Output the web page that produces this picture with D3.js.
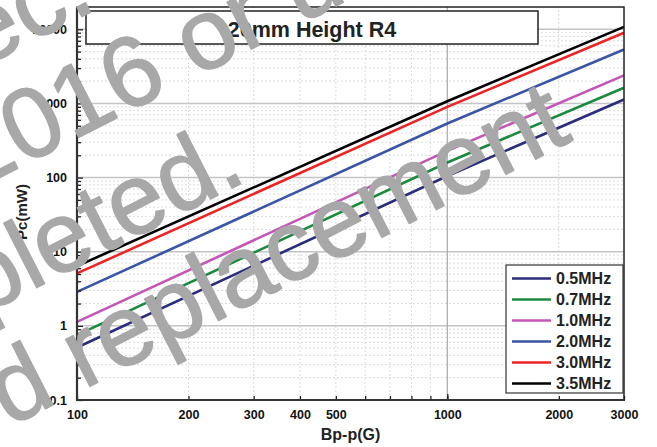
<!DOCTYPE html>
<html><head><meta charset="utf-8">
<script src="https://cdn.jsdelivr.net/npm/d3@7"></script>
<style>
body{margin:0;background:#fff}
svg{display:block;font-family:"Liberation Sans",Arial,Helvetica,sans-serif}
</style>
</head><body>
<svg id="chart" width="657" height="447"></svg>
<script>
// ---- data ----
const bValues = [100, 1000, 3000];               // Bp-p (G)
const seriesNames = ["0.5MHz", "0.7MHz", "1.0MHz", "2.0MHz", "3.0MHz", "3.5MHz"];
const p05 = [0.51, 105, 1130];
const p07 = [0.75, 160, 1625];
const p10 = [1.13, 229, 2390];
const p20 = [2.87, 537, 5350];
const p30 = [5.1, 900, 8970];
const p35 = [6.4, 1070, 10800];
const seriesColors = ["#2b2c7c", "#1b8a3c", "#c257b8", "#3b55a6", "#ee2424", "#000000"];
const xTickLabels = [100, 200, 300, 400, 500, 1000, 2000, 3000];
const yTickLabels = [0.1, 1, 10, 100, 1000, 10000];
const chartTitle = "20mm Height R4";
const xTitle = "Bp-p(G)";
const yTitle = "Pc(mW)";
const watermarkLines = ["Discontinued as of Dec.", "2016 or until stock is", "depleted.", "recommended replacement"];

const seriesValues = [p05, p07, p10, p20, p30, p35];

// ---- layout ----
const W = 657, H = 447;
const m = {left: 77, top: 7, right: 33, bottom: 47};
const svg = d3.select("#chart");

const x = d3.scaleLog().domain([100, 3000]).range([m.left, W - m.right]);
const y = d3.scaleLog().domain([0.1, 20000]).range([H - m.bottom, m.top]);
const x0 = m.left, x1 = W - m.right, y0 = H - m.bottom, y1 = m.top;

// minor values
const yMinor = [];
[0.1, 1, 10, 100, 1000].forEach(d => { for (let k = 2; k <= 9; k++) yMinor.push(d * k); });
const xMinor = [];
[100, 1000].forEach(d => { for (let k = 2; k <= 9; k++) { const v = d * k; if (v < 3000) xMinor.push(v); } });

// grid: minor dotted
const grid = svg.append("g");
grid.selectAll(".hmin").data(yMinor).join("line")
  .attr("x1", x0).attr("x2", x1).attr("y1", d => y(d)).attr("y2", d => y(d))
  .attr("stroke", "#d2d2d2").attr("stroke-width", 0.8).attr("stroke-dasharray", "2,2");
grid.selectAll(".vmin").data(xMinor).join("line")
  .attr("y1", y0).attr("y2", y1).attr("x1", d => x(d)).attr("x2", d => x(d))
  .attr("stroke", "#d2d2d2").attr("stroke-width", 0.8).attr("stroke-dasharray", "2,2");
// major solid
grid.selectAll(".hmaj").data([1, 10, 100, 1000, 10000]).join("line")
  .attr("x1", x0).attr("x2", x1).attr("y1", d => y(d)).attr("y2", d => y(d))
  .attr("stroke", "#c4c4c4").attr("stroke-width", 1.5);
grid.selectAll(".vmaj").data([1000]).join("line")
  .attr("y1", y0).attr("y2", y1).attr("x1", d => x(d)).attr("x2", d => x(d))
  .attr("stroke", "#aaaaaa").attr("stroke-width", 1.2);

// series lines
const line = d3.line().x((d, i) => x(bValues[i])).y(d => y(d));
svg.append("g").selectAll("path").data(seriesValues).join("path")
  .attr("d", d => line(d)).attr("fill", "none")
  .attr("stroke", (d, i) => seriesColors[i]).attr("stroke-width", 2.6);

// title box
svg.append("rect").attr("x", 86).attr("y", 11).attr("width", 452).attr("height", 33)
  .attr("fill", "#fff").attr("stroke", "#222").attr("stroke-width", 1.5);
svg.append("text").attr("x", 312).attr("y", 37).attr("text-anchor", "middle")
  .attr("font-size", 21.5).attr("font-weight", "bold").attr("fill", "#222").text(chartTitle);

// axes
const yAxis = svg.append("g").attr("transform", `translate(${x0},0)`)
  .call(d3.axisLeft(y).tickValues(yTickLabels).tickSize(-6).tickPadding(10).tickFormat(d3.format("~g")));
const yAxisMinor = svg.append("g").attr("transform", `translate(${x0},0)`)
  .call(d3.axisLeft(y).tickValues(yMinor).tickSize(-4).tickFormat(""));
const xAxis = svg.append("g").attr("transform", `translate(0,${y0})`)
  .call(d3.axisBottom(x).tickValues(xTickLabels).tickSize(-4).tickPadding(10).tickFormat(d3.format("d")));
const xAxisMinor = svg.append("g").attr("transform", `translate(0,${y0})`)
  .call(d3.axisBottom(x).tickValues([600, 700, 800, 900]).tickSize(-4).tickFormat(""));
const xAxisMajor = svg.append("g").attr("transform", `translate(0,${y0})`)
  .call(d3.axisBottom(x).tickValues([1000]).tickSize(-6).tickFormat(""));
[yAxis, yAxisMinor, xAxis, xAxisMinor, xAxisMajor].forEach(g => {
  g.select(".domain").remove();
  g.selectAll(".tick line").attr("stroke", "#222").attr("stroke-width", 1.3);
  g.selectAll("text").attr("font-size", 12.5).attr("font-weight", "bold").attr("fill", "#111")
    .attr("font-family", "'Liberation Sans',Arial,sans-serif");
});

// frame
svg.append("rect").attr("x", x0).attr("y", y1).attr("width", x1 - x0).attr("height", y0 - y1)
  .attr("fill", "none").attr("stroke", "#222").attr("stroke-width", 1.5);
svg.append("line").attr("x1", x0).attr("x2", x0).attr("y1", y1).attr("y2", y0 + 1).attr("stroke", "#333").attr("stroke-width", 2.2);
svg.append("line").attr("x1", x0 - 1).attr("x2", x1 + 1).attr("y1", y0).attr("y2", y0).attr("stroke", "#333").attr("stroke-width", 2.2);

// axis titles
svg.append("text").attr("x", (x0 + x1) / 2).attr("y", 440).attr("text-anchor", "middle")
  .attr("font-size", 16).attr("font-weight", "bold").attr("fill", "#222").text(xTitle);
svg.append("text").attr("transform", "translate(27,212) rotate(-90)").attr("text-anchor", "middle")
  .attr("font-size", 15).attr("font-weight", "bold").attr("fill", "#222").text(yTitle);

// legend
const lg = svg.append("g");
lg.append("rect").attr("x", 506).attr("y", 265).attr("width", 117).attr("height", 128)
  .attr("fill", "#fff").attr("stroke", "#333").attr("stroke-width", 1.2);
const items = lg.selectAll(".it").data(seriesNames).join("g")
  .attr("transform", (d, i) => `translate(0,${278.5 + i * 21})`);
items.append("line").attr("x1", 512).attr("x2", 551).attr("y1", 0).attr("y2", 0)
  .attr("stroke", (d, i) => seriesColors[i]).attr("stroke-width", 2.6);
items.append("text").attr("x", 556).attr("y", 0).attr("dy", "0.36em")
  .attr("font-size", 16).attr("font-weight", "bold").attr("fill", "#222").text(d => d);

// watermark overlay
const wmAnchors = [
  {x: 84, y: 52, anchor: "end"},
  {x: -111, y: 158, anchor: "start"},
  {x: 140, y: 273, anchor: "end"},
  {x: 448, y: 385, anchor: "end"}
];
const wm = svg.append("g").attr("transform", "rotate(-27)");
wm.selectAll("text").data(watermarkLines).join("text")
  .attr("x", (d, i) => wmAnchors[i].x).attr("y", (d, i) => wmAnchors[i].y)
  .attr("text-anchor", (d, i) => wmAnchors[i].anchor)
  .attr("font-size", 100).attr("fill", "#a8a8a8")
  .attr("stroke", "#a8a8a8").attr("stroke-width", 1.5).attr("stroke-linejoin", "round")
  .text(d => d);
</script>
</body></html>
